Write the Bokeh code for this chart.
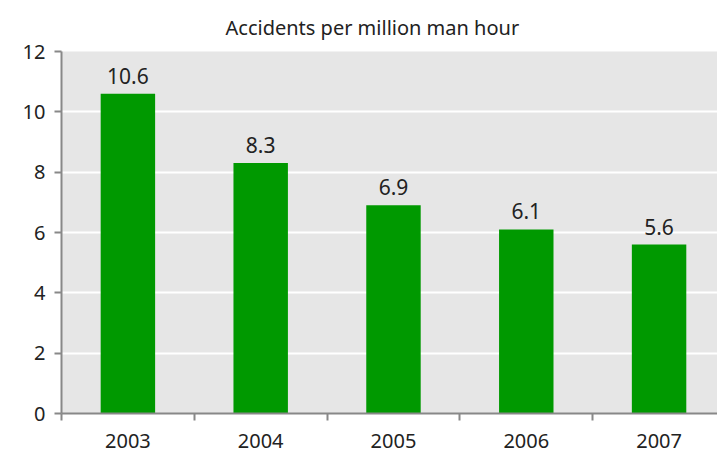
from bokeh.plotting import figure
from bokeh.models import Range1d, FixedTicker, ColumnDataSource, Title, LabelSet
from bokeh.core.properties import value
from bokeh.embed import file_html
from bokeh.resources import INLINE

years = ["2003", "2004", "2005", "2006", "2007"]
rates = [10.6, 8.3, 6.9, 6.1, 5.6]
rate_labels = ["10.6", "8.3", "6.9", "6.1", "5.6"]
title_text = "Accidents per million man hour"

FONT = "Noto Sans"
xs = [i + 0.5 for i in range(len(years))]
src = ColumnDataSource(dict(x=xs, top=rates, lab=rate_labels))

p = figure(width=717, height=458, output_backend="svg", toolbar_location=None,
           x_range=Range1d(0, 4.94), y_range=Range1d(0, 12),
           min_border_left=61, min_border_top=51, min_border_bottom=45, min_border_right=0)
p.title = Title(text=title_text, align="left", text_font=FONT, text_font_size="20px",
                text_font_style="normal", text_color="#222222", offset=164, standoff=22)
p.background_fill_color = "#e6e6e6"
p.border_fill_color = "white"
p.outline_line_color = None

p.vbar(x="x", top="top", width=0.41, source=src, fill_color="#009900", line_color=None)
labels = LabelSet(x="x", y="top", text="lab", source=src, text_align="center",
                  text_baseline="alphabetic", y_offset=10, text_font_size="21px",
                  text_color="#222222", text_font=value(FONT))
p.add_layout(labels)

p.xgrid.visible = False
p.ygrid.grid_line_color = "white"
p.ygrid.grid_line_width = 2
p.ygrid.ticker = FixedTicker(ticks=[0, 2, 4, 6, 8, 10, 12])

p.xaxis.ticker = FixedTicker(ticks=xs, minor_ticks=[0, 1, 2, 3, 4, 5])
p.xaxis.major_label_overrides = {x: y for x, y in zip(xs, years)}
p.xaxis.major_tick_line_color = None
p.xaxis.major_tick_out = 0
p.xaxis.major_tick_in = 0
p.xaxis.minor_tick_line_color = "#888888"
p.xaxis.minor_tick_line_width = 2
p.xaxis.minor_tick_out = 7
p.xaxis.minor_tick_in = 0
p.xaxis.major_label_standoff = 13

p.yaxis.ticker = FixedTicker(ticks=[0, 2, 4, 6, 8, 10, 12])
p.yaxis.minor_tick_line_color = None
p.yaxis.major_tick_in = 0
p.yaxis.major_tick_out = 7
p.yaxis.major_tick_line_color = "#888888"
p.yaxis.major_tick_line_width = 2
p.yaxis.major_label_standoff = 9

for ax in (p.xaxis, p.yaxis):
    ax.axis_line_color = "#888888"
    ax.axis_line_width = 2
    ax.major_label_text_font = FONT
    ax.major_label_text_font_size = "20px"
    ax.major_label_text_color = "#222222"

open("out.html", "w").write(file_html(p, INLINE))
